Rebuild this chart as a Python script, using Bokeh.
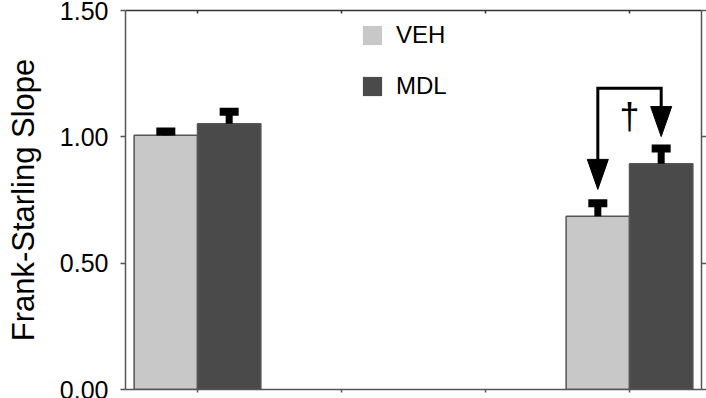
from bokeh.plotting import figure
from bokeh.models import (Range1d, FixedTicker, LinearAxis, Legend, LegendItem,
                          CustomJSTickFormatter, NumeralTickFormatter)
from bokeh.core.properties import value
from bokeh.embed import file_html
from bokeh.resources import INLINE

# ---- data ----
group_pos = [0, 3]
x_ticks = [0, 1, 2, 3]
y_ticks = [0.0, 0.5, 1.0, 1.5]
series = ["VEH", "MDL"]
veh_mean = [1.006, 0.686]
veh_err = [0.015, 0.051]
mdl_mean = [1.052, 0.893]
mdl_err = [0.047, 0.061]
arrow_tips = [0.792, 1.001]   # arrow tips above VEH / MDL of second group
bracket_y = 1.192
dagger_y = 1.079
sig_mark = "\u2020"
y_title = "Frank-Starling Slope"

FONT = "Liberation Sans"
VEH_C = "#c8c8c8"
MDL_C = "#4a4a4a"
AX_C = "#555555"

W, H = 706, 398
ML, MR, MT, MB = 125, 5, 10, 9
X0, X1, Y0, Y1 = -0.5, 3.5, 0.0, 1.5

p = figure(width=W, height=H, output_backend="svg", toolbar_location=None,
           x_range=Range1d(X0, X1), y_range=Range1d(Y0, Y1),
           min_border_left=ML, min_border_right=MR, min_border_top=MT,
           min_border_bottom=MB, outline_line_color=None)
p.grid.visible = False

blank = CustomJSTickFormatter(code="return ''")

def style_axis(ax, tin, tout, color=AX_C, labels=False):
    if not labels:
        ax.formatter = blank
        ax.major_label_text_font_size = "0px"
        ax.major_label_standoff = 0
    ax.major_tick_in = tin
    ax.major_tick_out = tout
    ax.axis_line_color = color
    ax.axis_line_width = 1.5
    ax.major_tick_line_color = color
    ax.major_tick_line_width = 1.5

xa = p.xaxis[0]
xa.ticker = FixedTicker(ticks=x_ticks)
style_axis(xa, 0, 3)

ya = p.yaxis[0]
ya.ticker = FixedTicker(ticks=y_ticks)
style_axis(ya, 0, 5, labels=True)
ya.formatter = NumeralTickFormatter(format="0.00")
ya.major_label_text_font = FONT
ya.major_label_text_font_size = "25px"
ya.major_label_text_color = "black"
ya.major_label_standoff = 12
ya.axis_label = y_title
ya.axis_label_text_font = FONT
ya.axis_label_text_font_size = "31px"
ya.axis_label_text_font_style = "normal"
ya.axis_label_text_color = "black"
ya.axis_label_standoff = 16

ra = LinearAxis(ticker=FixedTicker(ticks=y_ticks))
style_axis(ra, 0, 5)
p.add_layout(ra, "right")

ta = LinearAxis(ticker=FixedTicker(ticks=x_ticks))
style_axis(ta, 3, 0, "#333333")
p.add_layout(ta, "above")

# bars (fill layer, then outline layer)
off, bw = 0.22, 0.44
veh_x = [g - off for g in group_pos]
mdl_x = [g + off for g in group_pos]
r_veh = p.vbar(x=veh_x, top=veh_mean, bottom=0, width=bw, fill_color=VEH_C,
               line_color=None)
r_mdl = p.vbar(x=mdl_x, top=mdl_mean, bottom=0, width=bw, fill_color=MDL_C,
               line_color=None)
p.vbar(x=veh_x + mdl_x, top=veh_mean + mdl_mean, bottom=0, width=bw,
       fill_color=None, line_color=AX_C, line_width=1.5)

# error bars
for xs, m, e in [(veh_x, veh_mean, veh_err), (mdl_x, mdl_mean, mdl_err)]:
    tops = [a + b for a, b in zip(m, e)]
    p.segment(x0=xs, y0=m, x1=xs, y1=tops, line_width=7, line_color="black",
              line_cap="butt")
    p.rect(x=xs, y=tops, width=19, height=8, width_units="screen",
           height_units="screen", fill_color="black", line_color=None)

# significance bracket with arrows
frame_w = W - ML - MR
frame_h = H - MT - MB
px_x = frame_w / (X1 - X0)
px_y = frame_h / (Y1 - Y0)
hw = 10.5 / px_x
hh = 30.0 / px_y
arr_x = [veh_x[1], mdl_x[1]]
bases = [t + hh for t in arrow_tips]
p.multi_line(xs=[[arr_x[0], arr_x[0], arr_x[1], arr_x[1]]],
             ys=[[bases[0], bracket_y, bracket_y, bases[1]]],
             line_width=3, line_color="black", line_join="miter")
p.patches(xs=[[x - hw, x + hw, x] for x in arr_x],
          ys=[[b, b, t] for b, t in zip(bases, arrow_tips)],
          fill_color="black", line_color="black", line_width=1)
p.text(x=[group_pos[1]], y=[dagger_y], text=[sig_mark],
       text_font=value(FONT), text_font_size=value("36px"),
       text_align="center", text_baseline="middle", text_color="black")

# legend
leg = Legend(items=[LegendItem(label=series[0], renderers=[r_veh]),
                    LegendItem(label=series[1], renderers=[r_mdl])],
             location=(235, 289), orientation="vertical",
             glyph_width=24, glyph_height=24, label_height=24,
             label_standoff=12, spacing=23, padding=0, margin=0,
             border_line_color=None, background_fill_alpha=0,
             label_text_font=FONT, label_text_font_size="24px",
             label_text_color="black")
p.add_layout(leg)

open("out.html", "w").write(file_html(p, INLINE))
